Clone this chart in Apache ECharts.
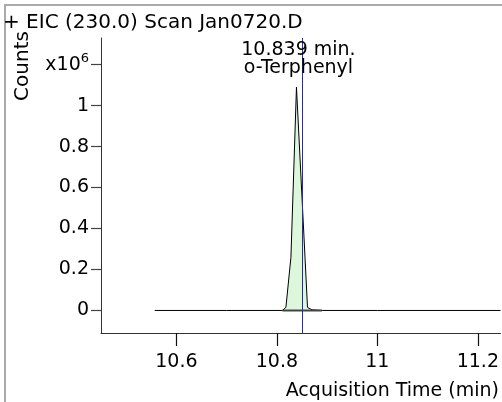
<!DOCTYPE html>
<html>
<head>
<meta charset="utf-8">
<script src="https://cdn.jsdelivr.net/npm/echarts@6/dist/echarts.min.js"></script>
<style>
html,body{margin:0;padding:0;background:#fff;overflow:hidden}
#frame{position:absolute;left:4px;top:4px;width:498px;height:398px;box-sizing:border-box;border-left:2px solid #aaa;border-top:2px solid #aaa}
#c{position:absolute;left:0;top:0;width:502px;height:402px}
</style>
</head>
<body>
<div id="frame"></div>
<div id="c"></div>
<script>
// Chromatogram data (time in min, intensity in counts)
var times  = [10.557, 10.700, 10.811, 10.818, 10.828, 10.839, 10.856, 10.861, 10.870, 10.890, 11.000, 11.245];
var counts = [0,      0,      0,      15000,  260000, 1090000, 260000, 15000,  3000,   0,      0,      0];
var baseTimes  = [10.811, 10.890];
var baseCounts = [0, 0];
var peakTime = 10.839;
var markerTime = 10.853;
var xTicks = [10.6, 10.8, 11, 11.2];
var yTicks = [0, 200000, 400000, 600000, 800000, 1000000, 1200000];
var titleText = '+ EIC (230.0) Scan Jan0720.D';
var peakLabel = ['10.839 min.', 'o-Terphenyl'];
var xName = 'Acquisition Time (min)';
var yName = 'Counts';

var FONT = 'DejaVu Sans';
var chart = echarts.init(document.getElementById('c'), null, {renderer: 'canvas'});
var lineData = times.map(function (t, i) { return [t, counts[i]]; });
var baseData = baseTimes.map(function (t, i) { return [t, baseCounts[i]]; });

chart.setOption({
  animation: false,
  backgroundColor: 'transparent',
  textStyle: {fontFamily: FONT},
  grid: {left: 101, right: 0, top: 38, bottom: 69, containLabel: false},
  xAxis: {
    type: 'value', min: 10.45, max: 11.245,
    axisLine: {show: true, onZero: false, lineStyle: {color: '#333', width: 1}},
    axisTick: {show: true, length: 13, customValues: xTicks, lineStyle: {color: '#111', width: 1.2}},
    axisLabel: {customValues: xTicks, margin: 20, fontSize: 19, color: '#000', fontFamily: FONT,
      formatter: function (v) { return String(Math.round(v * 10) / 10); }},
    splitLine: {show: false}
  },
  yAxis: {
    type: 'value', min: -110000, max: 1330000,
    axisLine: {show: true, onZero: false, lineStyle: {color: '#333', width: 1}},
    axisTick: {show: true, length: 10, customValues: yTicks, lineStyle: {color: '#444', width: 1.2}},
    axisLabel: {customValues: yTicks, margin: 12, fontSize: 19, color: '#000', fontFamily: FONT,
      formatter: function (v) {
        if (v >= 1200000) return '{a|x10}{s|6}';
        return String(Math.round(v / 1e5) / 10);
      },
      rich: {
        a: {fontSize: 19, color: '#000', fontFamily: FONT},
        s: {fontSize: 13, color: '#000', fontFamily: FONT, padding: [0, 0, 12, 0]}
      }
    },
    splitLine: {show: false}
  },
  series: [
    {
      type: 'line', data: lineData, symbol: 'none', clip: true,
      lineStyle: {color: '#000', width: 1},
      areaStyle: {color: '#ddf7dd', opacity: 1},
      z: 3,
      markLine: {
        silent: true, symbol: 'none', animation: false,
        label: {show: false},
        lineStyle: {color: '#2a2aa8', width: 1, type: 'solid'},
        data: [{xAxis: markerTime}]
      },
      markPoint: {
        symbol: 'circle', symbolSize: 0, silent: true,
        label: {show: true, position: 'inside', formatter: peakLabel.join('\n'),
          fontSize: 19, lineHeight: 18, color: '#000', fontFamily: FONT},
        data: [{coord: [peakTime + 0.004, 1226000]}]
      }
    },
    {
      type: 'line', data: baseData, symbol: 'none',
      lineStyle: {color: '#444', width: 2}, z: 4
    }
  ],
  graphic: [
    {type: 'text', x: 3, y: 23, style: {text: titleText, font: '20px "DejaVu Sans"', fill: '#000', align: 'left', verticalAlign: 'middle'}},
    {type: 'text', x: 23, y: 66, rotation: Math.PI / 2,
      style: {text: yName, font: '20px "DejaVu Sans"', fill: '#000', align: 'center', verticalAlign: 'middle'}},
    {type: 'text', x: 499, y: 391,
      style: {text: xName, font: '19px "DejaVu Sans"', fill: '#000', align: 'right', verticalAlign: 'middle'}}
  ]
});
</script>
</body>
</html>
